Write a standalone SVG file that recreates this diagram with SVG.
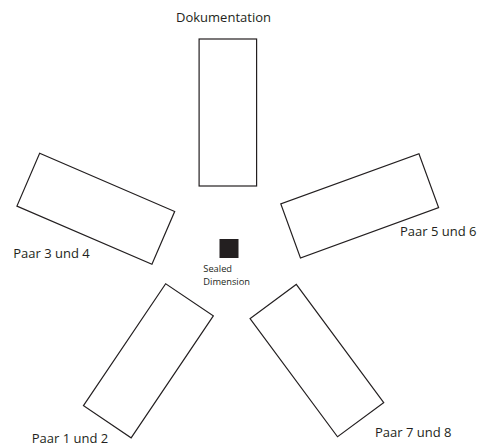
<svg xmlns="http://www.w3.org/2000/svg" width="484" height="447" viewBox="0 0 484 447">
<style>
.box{fill:#ffffff;stroke:#231f20;stroke-width:1.2}
.lbl{font-family:"Open Sans","Liberation Sans",sans-serif;font-size:13px;fill:#231f20}
.sm{font-family:"Open Sans","Liberation Sans",sans-serif;font-size:9.3px;fill:#231f20}
</style>
<rect width="484" height="447" fill="#ffffff"/>
<g id="connectors"></g>
<g id="dokumentation">
<rect class="box" x="199.1" y="39" width="57.5" height="147"/>
<text class="lbl" x="223.5" y="22" text-anchor="middle">Dokumentation</text>
</g>
<g id="paar34">
<rect class="box" x="-73.5" y="-28.75" width="147" height="57.5" transform="translate(95.8,208.8) rotate(23.3)"/>
<text class="lbl" x="13.3" y="258">Paar 3 und 4</text>
</g>
<g id="paar56">
<rect class="box" x="-73.5" y="-28.75" width="147" height="57.5" transform="translate(359.7,205.8) rotate(-20)"/>
<text class="lbl" x="400" y="236">Paar 5 und 6</text>
</g>
<g id="paar12">
<rect class="box" x="-28.75" y="-73.5" width="57.5" height="147" transform="translate(148.4,360.8) rotate(34)"/>
<text class="lbl" x="31.7" y="443">Paar 1 und 2</text>
</g>
<g id="paar78">
<rect class="box" x="-28.75" y="-73.5" width="57.5" height="147" transform="translate(316.9,360.6) rotate(-36.5)"/>
<text class="lbl" x="375" y="436.7">Paar 7 und 8</text>
</g>
<g id="sealed">
<rect x="219.5" y="239" width="19" height="19" fill="#231f20"/>
<text class="sm" x="203.3" y="271.7">Sealed</text>
<text class="sm" x="203.3" y="285">Dimension</text>
</g>
</svg>
